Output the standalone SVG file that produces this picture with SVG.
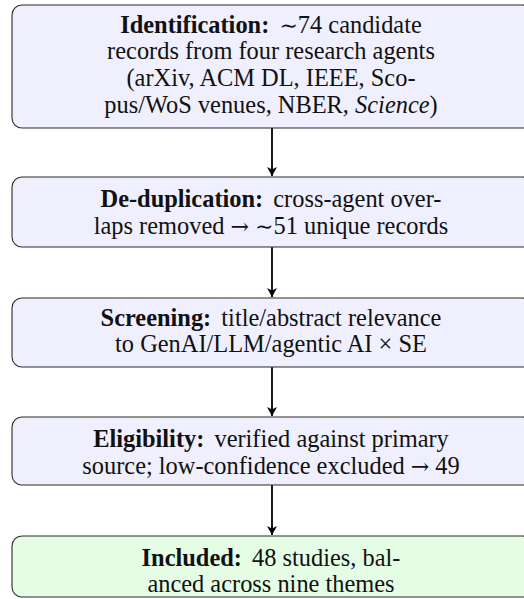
<svg xmlns="http://www.w3.org/2000/svg" width="524" height="599" viewBox="0 0 524 599">
<style>
.box{fill:#efeffd;stroke:#2a2a2a;stroke-width:1.1}
.inc{fill:#e5fde5;stroke:#2a2a2a;stroke-width:1.1}
.t{font-size:24.4px;fill:#111}
.b{font-weight:bold}
.i{font-style:italic}
.m{font-family:'DejaVu Serif',serif;font-size:22px}
.edge{stroke:#000;stroke-width:1.8;fill:none}
</style>
<defs>
<marker id="ah" markerWidth="10" markerHeight="14" refX="9" refY="7" orient="auto" markerUnits="userSpaceOnUse">
<path d="M0,2 L9,7 L0,12 L2.5,7 Z" fill="#000"/>
</marker>
</defs>
<g id="connectors">
<line class="edge" x1="272" y1="128" x2="272" y2="176" marker-end="url(#ah)"/>
<line class="edge" x1="272" y1="247" x2="272" y2="297" marker-end="url(#ah)"/>
<line class="edge" x1="272" y1="367" x2="272" y2="416" marker-end="url(#ah)"/>
<line class="edge" x1="272" y1="485" x2="272" y2="535" marker-end="url(#ah)"/>
</g>
<g id="identification" class="t" font-family="Liberation Serif, serif" text-anchor="middle">
<rect class="box" x="12" y="5" width="520" height="123" rx="10"/>
<text x="271" y="33"><tspan class="b">Identification:</tspan><tspan dx="4"> </tspan><tspan class="m">∼</tspan>74 candidate</text>
<text x="271" y="59">records from four research agents</text>
<text x="271" y="86">(arXiv, ACM DL, IEEE, Sco-</text>
<text x="271" y="113">pus/WoS venues, NBER, <tspan class="i">Science</tspan>)</text>
</g>
<g id="deduplication" class="t" font-family="Liberation Serif, serif" text-anchor="middle">
<rect class="box" x="12" y="177" width="520" height="70" rx="10"/>
<text x="271" y="207"><tspan class="b">De-duplication:</tspan><tspan dx="4"> </tspan>cross-agent over-</text>
<text x="271" y="234">laps removed <tspan class="m">→</tspan> <tspan class="m">∼</tspan>51 unique records</text>
</g>
<g id="screening" class="t" font-family="Liberation Serif, serif" text-anchor="middle">
<rect class="box" x="12" y="298" width="520" height="69" rx="10"/>
<text x="271" y="326"><tspan class="b">Screening:</tspan><tspan dx="4"> </tspan>title/abstract relevance</text>
<text x="271" y="352">to GenAI/LLM/agentic AI × SE</text>
</g>
<g id="eligibility" class="t" font-family="Liberation Serif, serif" text-anchor="middle">
<rect class="box" x="12" y="417" width="520" height="68" rx="10"/>
<text x="271" y="447"><tspan class="b">Eligibility:</tspan><tspan dx="4"> </tspan>verified against primary</text>
<text x="271" y="474">source; low-confidence excluded <tspan class="m">→</tspan> 49</text>
</g>
<g id="included" class="t" font-family="Liberation Serif, serif" text-anchor="middle">
<rect class="inc" x="12" y="536" width="520" height="61" rx="10"/>
<text x="271" y="566"><tspan class="b">Included:</tspan><tspan dx="4"> </tspan>48 studies, bal-</text>
<text x="271" y="592">anced across nine themes</text>
</g>
</svg>
